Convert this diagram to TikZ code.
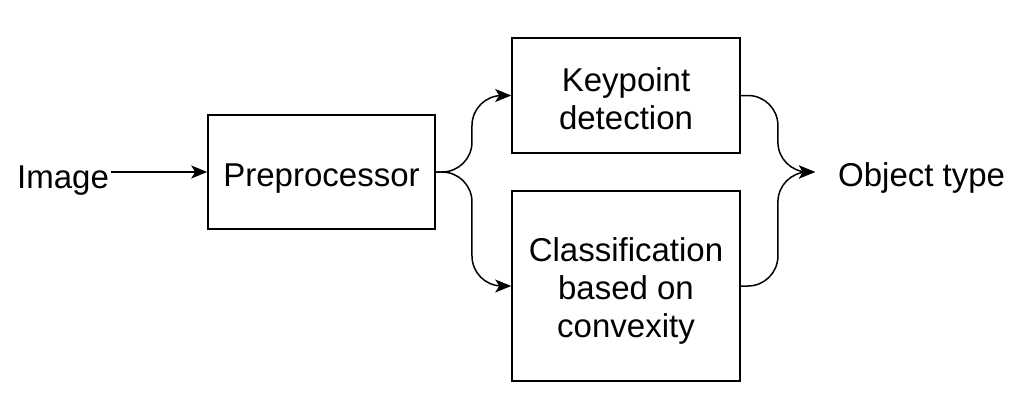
\documentclass[tikz,border=0pt]{standalone}
\usepackage{fontspec}
\setmainfont{Liberation Sans}
\usetikzlibrary{arrows.meta,calc}
\begin{document}
\begin{tikzpicture}[x=1pt,y=-1pt,
  box/.style={draw=black,line width=1.6pt,inner sep=0pt},
  txt/.style={inner sep=0pt,align=center,font=\fontsize{33}{38}\selectfont},
  lbl/.style={inner sep=2pt,font=\fontsize{33}{38}\selectfont},
  conn/.style={draw=black,line width=1.5pt,-{Stealth[length=16pt,width=13pt,inset=4pt]}},
  curvy/.style={conn,rounded corners=30pt}]
\useasboundingbox (0,0) rectangle (1030,400);
\node[box,minimum width=227pt,minimum height=114pt] (pre) at (321.5,172) {};
\node[box,minimum width=228pt,minimum height=115pt] (kp) at (626,95.5) {};
\node[box,minimum width=228pt,minimum height=190pt] (cls) at (626,286) {};
\node[txt,yshift=-7pt] (pretxt) at (pre.center) {Preprocessor};
\node[txt,yshift=-3.4pt] (kptxt) at (kp.center) {Keypoint\\detection};
\node[txt,yshift=-4.7pt] (clstxt) at (cls.center) {Classification\\based on\\convexity};
\node[lbl,anchor=base west] (img) at (15,188) {Image};
\node[lbl,anchor=base west] (obj) at (836,186) {Object type};
\coordinate (out) at (815,172);
\draw[conn] (img.east |- pre.west) -- (pre.west);
\draw[curvy] (pre.east) -- ($(pre.east)!0.48!(kp.west |- pre.east)$) |- (kp.west);
\draw[curvy] (pre.east) -- ($(pre.east)!0.48!(cls.west |- pre.east)$) |- (cls.west);
\draw[curvy] (kp.east) -- ($(kp.east)!0.5!(out |- kp.east)$) |- (out);
\draw[curvy] (cls.east) -- ($(cls.east)!0.5!(out |- cls.east)$) |- (out);
\end{tikzpicture}
\end{document}
